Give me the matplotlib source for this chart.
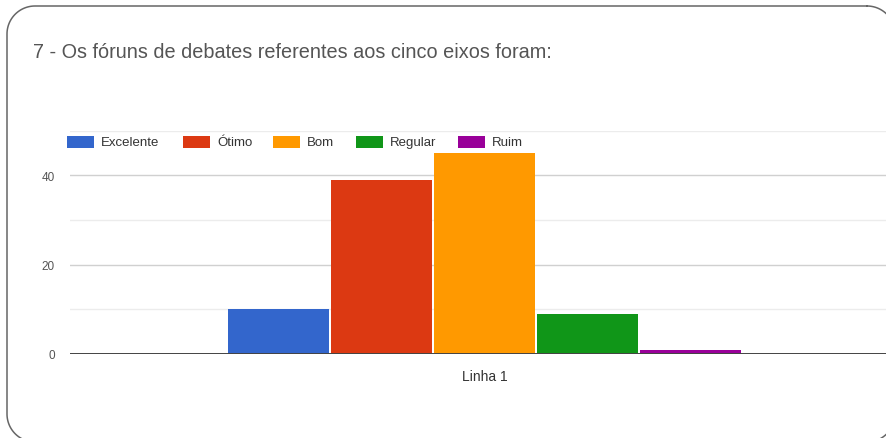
import numpy as np
import matplotlib
matplotlib.use("Agg")
import matplotlib.pyplot as plt
from matplotlib.patches import Rectangle
from matplotlib.lines import Line2D
from matplotlib.transforms import Affine2D

plt.rcParams['font.family'] = ['Liberation Sans', 'DejaVu Sans']

title = "7 - Os fóruns de debates referentes aos cinco eixos foram:"
categories = ["Excelente", "Ótimo", "Bom", "Regular", "Ruim"]
values = [10, 39, 45, 9, 1]
colors = ["#3366cc", "#dc3912", "#ff9900", "#109618", "#990099"]
group_label = "Linha 1"
yticks = [0, 20, 40]

W, H = 887, 439
fig = plt.figure(figsize=(W / 100, H / 100), dpi=100)
fig.patch.set_facecolor("white")

def fx(px):
    return px / W

def fy(py):
    return 1 - py / H

# pixel transform (origin top-left, y down)
pix = Affine2D().scale(1 / W, -1 / H).translate(0, 1) + fig.transFigure

# rounded frame drawn as a polyline in pixel coordinates
r = 28
left, right, top, bottom = 7, 895, 7, 443
xs, ys = [], []
for cx, cy, a0 in [(right - r, top + r, -90), (right - r, bottom - r, 0),
                   (left + r, bottom - r, 90), (left + r, top + r, 180)]:
    t = np.radians(np.linspace(a0, a0 + 90, 30))
    xs.extend(cx + r * np.cos(t))
    ys.extend(cy + r * np.sin(t))
xs.append(xs[0]); ys.append(ys[0])
fig.add_artist(Line2D(xs, ys, transform=pix, color="#666666", linewidth=1.1, clip_on=False))

ax = fig.add_axes([fx(70), fy(355), fx(887) - fx(70), (355 - 131.5) / H])
ax.set_facecolor("none")
x = list(range(len(values)))
ax.bar(x, values, width=0.98, color=colors, zorder=3)

ax.set_ylim(0, 50)
ax.set_xlim(-2.024, 5.908)
ax.set_yticks(yticks)
ax.set_yticklabels([str(t) for t in yticks])
ax.set_yticks([10, 30, 50], minor=True)
ax.yaxis.grid(True, which="major", color="#d0d0d0", linewidth=1.0, zorder=0)
ax.yaxis.grid(True, which="minor", color="#ececec", linewidth=1.0, zorder=0)
ax.axhline(0, color="#444444", linewidth=1.4, zorder=4)
ax.set_xticks([sum(x) / len(x)])
ax.set_xticklabels([group_label])
ax.tick_params(axis="x", length=0, pad=11, labelsize=10, labelcolor="#333333")
ax.tick_params(axis="y", which="both", length=0, pad=11, labelsize=8.5, labelcolor="#555555")
for s in ax.spines.values():
    s.set_visible(False)

fig.text(fx(33), fy(53), title, fontsize=14.3, color="#555555", va="center", ha="left")

# legend
box_x = [67, 183, 273, 356, 458]
for bx, cat, col in zip(box_x, categories, colors):
    fig.patches.append(Rectangle((bx, 137), 27, 12, transform=pix,
                                 facecolor=col, edgecolor="none"))
    fig.text(fx(bx + 34), fy(143), cat, fontsize=9.5, color="#333333", va="center", ha="left")

fig.savefig("out.png", dpi=100, facecolor="white")
